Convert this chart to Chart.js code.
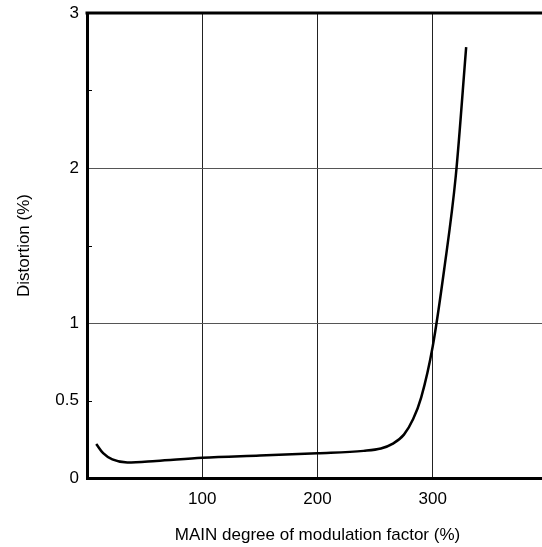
<!DOCTYPE html>
<html>
<head>
<meta charset="utf-8">
<script src="https://cdn.jsdelivr.net/npm/chart.js@4/dist/chart.umd.min.js"></script>
<style>
  html, body { margin: 0; padding: 0; overflow: hidden; background: #fff; }
</style>
</head>
<body>
<canvas id="chart" width="549" height="547"></canvas>
<script>
const modulation = [8, 14, 22, 35, 60, 100, 150, 200, 240, 255, 265, 275, 283, 290, 300, 310, 320, 329];
const distortion = [0.22, 0.16, 0.12, 0.10, 0.11, 0.13, 0.145, 0.16, 0.175, 0.19, 0.22, 0.28, 0.38, 0.52, 0.85, 1.35, 1.95, 2.78];
const yLabels = ['0', '0.5', '1', '', '2', '', '3'];
const minorTicks = [0.5, 1.5, 2.5];

const points = modulation.map((x, i) => ({ x: x, y: distortion[i] }));

// top frame line + short inside ticks on the y axis
const frame = {
  id: 'frame',
  afterDraw(chart) {
    const ctx = chart.ctx;
    const area = chart.chartArea;
    const y = chart.scales.y;
    ctx.save();
    ctx.strokeStyle = '#000';
    ctx.lineWidth = 3;
    ctx.beginPath();
    ctx.moveTo(area.left - 1.5, area.top);
    ctx.lineTo(area.right, area.top);
    ctx.stroke();
    ctx.lineWidth = 1;
    minorTicks.forEach(v => {
      const py = Math.round(y.getPixelForValue(v)) + 0.5;
      ctx.beginPath();
      ctx.moveTo(area.left, py);
      ctx.lineTo(area.left + 5, py);
      ctx.stroke();
    });
    ctx.restore();
  }
};

const font = { family: '"Liberation Sans", Arial, sans-serif', size: 17 };

new Chart(document.getElementById('chart'), {
  type: 'line',
  data: {
    datasets: [{
      data: points,
      borderColor: '#000',
      borderWidth: 2.5,
      pointRadius: 0,
      fill: false,
      cubicInterpolationMode: 'monotone'
    }]
  },
  options: {
    responsive: false,
    animation: false,
    layout: { padding: { top: 13, right: 1, left: 0, bottom: 0 } },
    plugins: { legend: { display: false }, tooltip: { enabled: false } },
    scales: {
      x: {
        type: 'linear',
        min: 0,
        max: 400,
        afterFit(scale) { scale.height = 69; scale.paddingLeft = 0; scale.paddingRight = 0; },
        ticks: {
          stepSize: 100,
          color: '#000',
          font: font,
          padding: 11,
          callback: v => (v === 0 || v === 400) ? '' : String(v)
        },
        grid: {
          drawTicks: false,
          color: ctx => (ctx.tick && ctx.tick.value > 0 && ctx.tick.value < 400) ? '#222' : 'rgba(0,0,0,0)',
          lineWidth: 1
        },
        border: { display: true, color: '#000', width: 3 },
        title: {
          display: true,
          text: 'MAIN degree of modulation factor (%)',
          color: '#000',
          font: font,
          padding: { top: 2, bottom: 1 }
        }
      },
      y: {
        type: 'linear',
        min: 0,
        max: 3,
        afterFit(scale) { scale.width = 87; scale.paddingTop = 0; scale.paddingBottom = 0; },
        ticks: {
          stepSize: 0.5,
          color: '#000',
          font: font,
          padding: 8,
          autoSkip: false,
          callback: (v, i) => yLabels[i]
        },
        grid: {
          drawTicks: false,
          color: ctx => (ctx.tick && (ctx.tick.value === 1 || ctx.tick.value === 2)) ? '#555' : 'rgba(0,0,0,0)',
          lineWidth: 1
        },
        border: { display: true, color: '#000', width: 3 },
        title: {
          display: true,
          text: 'Distortion (%)',
          color: '#000',
          font: font,
          padding: { top: 14, bottom: 0 }
        }
      }
    }
  },
  plugins: [frame]
});
</script>
</body>
</html>
